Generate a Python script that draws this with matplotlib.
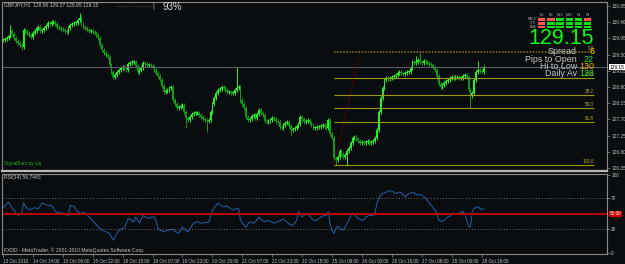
import matplotlib
matplotlib.use("Agg")
import matplotlib.pyplot as plt
import matplotlib.patches as patches
import numpy as np

# ---- data (GBPJPY H1) ----
closes = [
    129.91, 129.93, 129.96, 130.02, 130.16, 130.07, 129.96, 129.88, 129.82, 129.77,
    129.71, 130.18, 130.16, 130.10, 130.04, 129.99, 130.10, 130.16, 130.24, 130.27,
    130.16, 130.18, 130.24, 130.30, 130.38, 130.35, 130.41, 130.41, 130.35, 130.27,
    130.24, 130.21, 130.18, 130.16, 130.13, 130.24, 130.32, 130.35, 130.38, 130.38,
    130.46, 130.52, 130.35, 130.27, 130.24, 130.18, 130.16, 130.16, 130.13, 130.10,
    130.04, 129.96, 129.77, 129.63, 129.54, 129.49, 129.43, 129.21, 129.02, 128.88,
    128.93, 129.02, 129.07, 129.13, 129.16, 129.10, 129.07, 129.24, 129.27, 129.30,
    129.30, 129.18, 129.02, 129.07, 129.13, 129.27, 129.24, 129.21, 129.21, 129.18,
    129.16, 129.07, 128.99, 128.91, 128.79, 128.63, 128.46, 128.49, 128.52, 128.57,
    128.60, 128.24, 128.13, 128.02, 128.04, 128.07, 128.10, 127.90, 127.74, 127.68,
    127.77, 127.85, 127.88, 127.88, 127.88, 127.82, 127.77, 127.71, 127.68, 127.66,
    127.68, 127.91, 128.13, 128.30, 128.43, 128.52, 128.54, 128.60, 128.57, 128.52,
    128.46, 128.46, 128.43, 128.43, 128.52, 128.57, 128.60, 128.24, 128.13, 128.02,
    127.77, 127.68, 127.71, 127.79, 127.82, 127.74, 127.85, 127.96, 127.88, 127.82,
    127.66, 127.63, 127.66, 127.68, 127.74, 127.71, 127.66, 127.63, 127.49, 127.46,
    127.54, 127.60, 127.63, 127.52, 127.41, 127.43, 127.46, 127.52, 127.57, 127.77,
    127.71, 127.63, 127.66, 127.68, 127.60, 127.54, 127.46, 127.46, 127.49, 127.49,
    127.52, 127.54, 127.49, 127.46, 127.68, 127.30, 127.18, 126.63, 126.57, 126.65,
    126.82, 126.74, 126.65, 126.71, 126.82, 126.91, 127.05, 127.18, 127.21, 127.16,
    127.10, 127.05, 127.07, 127.05, 127.07, 127.10, 127.05, 127.07, 127.10, 127.18,
    127.41, 127.91, 128.30, 128.57, 128.79, 128.85, 128.82, 128.85, 128.88, 128.91,
    128.93, 128.99, 129.02, 128.99, 128.96, 128.99, 129.02, 129.02, 129.13, 129.30,
    129.27, 129.30, 129.35, 129.30, 129.27, 129.32, 129.30, 129.27, 129.24, 129.21,
    129.16, 129.07, 128.91, 128.68, 128.60, 128.66, 128.71, 128.77, 128.79, 128.85,
    128.88, 128.85, 128.88, 128.88, 128.85, 128.85, 128.91, 128.93, 128.88, 128.52,
    128.35, 128.43, 128.79, 129.02, 129.07, 129.05, 129.02, 129.15,
]
# bars with long wicks
spike_highs = {4: 130.32, 41: 130.66, 125: 129.16, 221: 129.45, 223: 129.57, 254: 129.33}
spike_lows = {10: 129.62, 98: 127.46, 109: 127.35, 154: 127.24, 178: 126.43, 184: 126.43, 250: 128.02}

rsi = [
    58, 60, 63, 65, 61, 57, 54, 51, 48, 49,
    51, 64, 60, 57, 55, 56, 57, 58, 57, 57,
    60, 64, 63, 62, 61, 61, 61, 58, 53, 52,
    52, 51, 51, 50, 49, 48, 61, 60, 60, 55,
    53, 51, 51, 52, 51, 49, 46, 44, 41, 38,
    36, 33, 31, 29, 28, 27, 26, 25, 20, 16,
    20, 25, 29, 30, 31, 32, 38, 44, 43, 41,
    40, 46, 42, 38, 43, 48, 46, 45, 44, 45,
    46, 46, 40, 31, 29, 28, 27, 28, 29, 29,
    30, 30, 28, 26, 25, 29, 33, 31, 28, 27,
    31, 35, 38, 39, 40, 39, 38, 38, 39, 39,
    39, 47, 55, 58, 61, 64, 62, 60, 59, 60,
    60, 58, 56, 55, 56, 57, 57, 42, 38, 35,
    33, 37, 40, 39, 38, 40, 43, 46, 43, 41,
    40, 41, 41, 40, 39, 38, 39, 40, 41, 42,
    43, 41, 39, 37, 36, 35, 38, 41, 53, 49,
    46, 48, 50, 51, 47, 44, 42, 41, 42, 44,
    46, 47, 48, 48, 53, 36, 29, 25, 30, 34,
    32, 30, 29, 33, 38, 42, 47, 51, 49, 46,
    44, 43, 42, 42, 46, 47, 48, 48, 48, 51,
    64, 70, 74, 76, 77, 78, 79, 80, 79, 78,
    76, 77, 78, 77, 75, 72, 74, 76, 77, 78,
    77, 75, 74, 75, 74, 72, 70, 67, 64, 61,
    58, 55, 51, 42, 41, 40, 42, 44, 46, 47,
    49, 51, 50, 49, 51, 52, 53, 50, 42, 34,
    33, 53, 57, 58, 59, 57, 55, 56.7443,
]

x_tick_labels = ["13 Oct 2010", "14 Oct 14:00", "15 Oct 06:00", "15 Oct 22:00", "18 Oct 15:00",
                 "19 Oct 07:00", "19 Oct 23:00", "20 Oct 15:00", "21 Oct 07:00", "21 Oct 23:00",
                 "22 Oct 15:00", "25 Oct 08:00", "26 Oct 00:00", "26 Oct 16:00", "27 Oct 08:00",
                 "28 Oct 00:00", "28 Oct 16:00"]
bars_per_label = 16

price_ticks = [130.85, 130.40, 129.95, 129.50, 129.05, 128.60, 128.15, 127.70, 127.25, 126.80, 126.35]
last_price = 129.15

fib_high = 129.58
fib_low = 126.43
fib_levels = [0.0, 23.6, 38.2, 50.0, 61.8, 100.0]
fib_start, fib_end = 177, 316
trend_start = (177, 126.43)
trend_end = (191, 129.58)

info_labels = ["Spread", "Pips to Open", "Hi to Low", "Daily Av"]
info_values = ["6", "22", "130", "128"]
info_colors = ["#ffc800", "#33dd33", "#ffb400", "#33dd33"]

tf_names = ["M1", "M5", "M15", "M30", "H1", "H4"]
row_names = ["MACD", "STR", "EMA"]
signal_rows = [
    ["r", "r", "g", "g", "g", "r"],
    ["r", "g", "g", "g", "g", "g"],
    ["r", "g", "g", "g", "g", "g"],
]

# ---- styling ----
BG = "#0a0d0f"
GRID_GRAY = "#8a8a8a"
TXT = "#c4c4c4"
W, H = 625, 264

plt.rcParams["font.family"] = ["Liberation Sans", "DejaVu Sans"]

fig = plt.figure(figsize=(W / 100, H / 100), dpi=100, facecolor=BG)


def fx(px):
    return px / W


def fy(py):
    return 1 - py / H


def ftext(px, py, s, **kw):
    fig.text(fx(px), fy(py), s, **kw)


ax = fig.add_axes([fx(2), fy(171), fx(605), (171 - 2) / H], facecolor=BG)
ax2 = fig.add_axes([fx(2), fy(254), fx(605), (254 - 174) / H], facecolor=BG)

n = len(closes)
idx = np.arange(n)
closes_a = np.array(closes)
opens_a = np.concatenate([[closes[0]], closes_a[:-1]])
wick = 0.05
highs = np.maximum(opens_a, closes_a) + wick
lows = np.minimum(opens_a, closes_a) - wick
for k, v in spike_highs.items():
    highs[k] = v
for k, v in spike_lows.items():
    lows[k] = v

up = closes_a >= opens_a
cols = np.where(up, "#26f026", "#0f9a0f")
ax.vlines(idx, lows, highs, colors=cols, lw=0.7)
body = np.maximum(np.abs(closes_a - opens_a), 0.02)
ax.bar(idx, body, bottom=np.minimum(opens_a, closes_a), width=0.9, color=cols, lw=0)

xmax = 605 / 1.87 - 0.5
ax.set_xlim(-0.5, xmax)
ax.set_ylim(126.267, 130.961)

# last price line
ax.axhline(last_price, color="#5c6670", lw=0.7)

# fibonacci
rng = fib_high - fib_low
for lv in fib_levels:
    p = fib_high - rng * lv / 100
    if lv == 0.0:
        ax.hlines(p, fib_start, fib_end, color="#8c7a22", lw=1.1, linestyles=(0, (1, 1)))
    else:
        ax.hlines(p, fib_start, fib_end, color="#9c9a0a", lw=0.8)
    ax.text(fib_end, p + 0.03, "%.1f" % lv, color="#b4b020", fontsize=3.3,
            ha="right", va="bottom")
ax.plot([trend_start[0], trend_end[0]], [trend_start[1], trend_end[1]],
        color="#a00000", lw=0.8, ls=(0, (1, 1.5)))

ax.set_yticks(price_ticks)
ax.set_yticklabels(["%.2f" % t for t in price_ticks])
ax.set_xticks([])
ax.tick_params(axis="y", left=False, labelleft=False, right=True, labelright=True,
               direction="out", length=2, width=0.5, colors=GRID_GRAY, labelsize=3.4,
               labelcolor=TXT, pad=1)
ax.text(1.004, last_price, "%.2f" % last_price, transform=ax.get_yaxis_transform(),
        fontsize=3.4, color="#000000", va="center", ha="left",
        bbox=dict(boxstyle="square,pad=0.12", fc="#ffffff", ec="none"))
for s in ax.spines.values():
    s.set_color(GRID_GRAY)
    s.set_linewidth(0.8)
ax.spines["bottom"].set_color("#b8b8b8")
ax.spines["bottom"].set_linewidth(1.6)

# ---- RSI ----
ax2.plot(idx, rsi, color="#1f5fae", lw=0.7)
ax2.axhline(70, color="#8a8a8a", lw=0.6, ls=(0, (1, 2.5)))
ax2.axhline(30, color="#8a8a8a", lw=0.6, ls=(0, (1, 2.5)))
ax2.axhline(50, color="#c80000", lw=1.3)
ax2.set_xlim(-0.5, xmax)
ax2.set_ylim(-1.7, 101.3)
ax2.set_yticks([0, 30, 70, 100])
ax2.set_yticklabels(["0", "30", "70", "100"])
tick_pos = [i * bars_per_label for i in range(len(x_tick_labels))]
ax2.set_xticks(tick_pos)
ax2.set_xticklabels(x_tick_labels, ha="left")
ax2.tick_params(axis="y", left=False, labelleft=False, right=True, labelright=True,
                direction="out", length=2, width=0.5, colors=GRID_GRAY, labelsize=3.4,
                labelcolor=TXT, pad=1)
ax2.tick_params(axis="x", direction="out", length=2, width=0.5, colors=GRID_GRAY,
                labelsize=3.3, labelcolor=TXT, pad=1.5)
ax2.text(1.004, 50, "50.00", transform=ax2.get_yaxis_transform(), fontsize=3.4,
         color="#ffffff", va="center", ha="left",
         bbox=dict(boxstyle="square,pad=0.12", fc="#d00000", ec="none"))
for s in ax2.spines.values():
    s.set_color(GRID_GRAY)
    s.set_linewidth(0.8)

# ---- overlay texts ----
ftext(4, 5, "GBPJPY,H1  128.96 129.27 128.95 129.15", fontsize=3.6, color=TXT, va="center")
ftext(118, 6, "- - - - - - - - - - - -", fontsize=3.4, color="#9a9a9a", va="center")
ftext(152, 6, "|", fontsize=5.5, color="#b0b0b0", va="center")
ftext(163, 6.5, "93%", fontsize=7, color="#d8d8d8", va="center")
ftext(4, 163, "SignalBars by cja", fontsize=3.4, color="#18b018", va="center")
ftext(4, 178, "RSI(14) 56.7443", fontsize=3.6, color=TXT, va="center")
ftext(4, 250, "FXDD - MetaTrader, \u00a9 2001-2010 MetaQuotes Software Corp.",
      fontsize=3.6, color=TXT, va="center")

# signal grid
col_x = [538 + 9.2 * c for c in range(len(tf_names))]
row_y = [18.3, 22.0, 25.7]
for c, name in enumerate(tf_names):
    ftext(col_x[c] + 3.6, 15, name, fontsize=2.4, color="#b0b0b0", ha="center", va="center")
for r, name in enumerate(row_names):
    ftext(536, row_y[r] + 1.2, name, fontsize=2.2, color="#b0b0b0", ha="right", va="center")
    for c in range(len(tf_names)):
        colr = "#ff5a4a" if signal_rows[r][c] == "r" else "#11e011"
        fig.patches.append(patches.Rectangle((fx(col_x[c]), fy(row_y[r] + 2.6)), fx(7.4), 2.6 / H,
                                             transform=fig.transFigure, fc=colr, ec="none"))

ftext(594, 38.5, "%.2f" % last_price, fontsize=15.5, color="#00ff00", ha="right", va="center")
info_y = [52, 59.5, 66.5, 73.5]
for lab, val, colr, yy in zip(info_labels, info_values, info_colors, info_y):
    ftext(577, yy, lab, fontsize=6.4, color="#c8c8c8", ha="right", va="center")
    ftext(594, yy, val, fontsize=6.4, color=colr, ha="right", va="center")

fig.savefig("out.png", dpi=100, facecolor=BG)
